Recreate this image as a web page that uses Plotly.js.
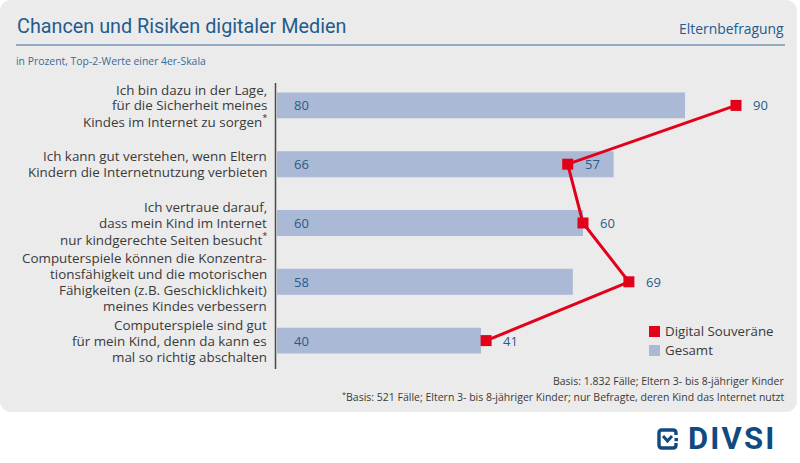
<!DOCTYPE html>
<html><head><meta charset="utf-8">
<script src="https://cdn.plot.ly/plotly-3.0.1.min.js"></script>
<style>
body{margin:0;background:#fff;font-family:"Open Sans",sans-serif;}
#panel{position:absolute;left:0;top:0;width:797px;height:412px;background:#ebebeb;border-radius:11px;}
#chart{position:absolute;left:0;top:0;width:800px;height:463px;}
#logo{position:absolute;left:657px;top:424px;height:30px;display:flex;align-items:center;}
#logo span{font-family:Roboto,sans-serif;font-weight:700;font-size:31px;color:#0f4a80;letter-spacing:2.2px;margin-left:8px;line-height:30px;}
</style></head>
<body>
<div id="panel"></div>
<div id="chart"></div>
<div id="logo"><svg width="23" height="22" viewBox="0 0 23 22"><path d="M19 7 V5 Q19 2 16 2 H5 Q2 2 2 5 V17 Q2 20 5 20 H16 Q19 20 19 17 V15" fill="none" stroke="#0f4a80" stroke-width="3.4"/><path d="M6 8 L10.5 13 L15 8" fill="none" stroke="#0f4a80" stroke-width="3"/><rect x="17.5" y="10" width="3.5" height="3.2" fill="#0f4a80"/></svg><span>DIVSI</span></div>
<script>
const categories = [
  "Ich bin dazu in der Lage,<br>für die Sicherheit meines<br>Kindes im Internet zu sorgen<sup>*</sup>",
  "Ich kann gut verstehen, wenn Eltern<br>Kindern die Internetnutzung verbieten",
  "Ich vertraue darauf,<br>dass mein Kind im Internet<br>nur kindgerechte Seiten besucht<sup>*</sup>",
  "Computerspiele können die Konzentra-<br>tionsfähigkeit und die motorischen<br>Fähigkeiten (z.B. Geschicklichkeit)<br>meines Kindes verbessern",
  "Computerspiele sind gut<br>für mein Kind, denn da kann es<br>mal so richtig abschalten"
];
const gesamt = [80, 66, 60, 58, 40];
const digitalSouveraene = [90, 57, 60, 69, 41];
const seriesNames = ["Digital Souveräne", "Gesamt"];
const titleText = "Chancen und Risiken digitaler Medien";
const subtitleText = "in Prozent, Top-2-Werte einer 4er-Skala";
const groupText = "Elternbefragung";
const footnote1 = "Basis: 1.832 Fälle; Eltern 3- bis 8-jähriger Kinder";
const footnote2 = "<sup>*</sup>Basis: 521 Fälle; Eltern 3- bis 8-jähriger Kinder; nur Befragte, deren Kind das Internet nutzt";

const W = 800, H = 463, L = 277, R = 13, T = 76, B = 93;
const pw = W - L - R, ph = H - T - B;
const px = x => (x - L) / pw;
const py = y => 1 - (y - T) / ph;

const F = "Open Sans";
const blue = "#2a5b8b", red = "#e2001a", barCol = "#aab9d5", txt = "#3a3a3a";
const lineGap = 15.9;

const traces = [
  {type:"bar", orientation:"h", x:gesamt, y:categories, width:0.44,
   marker:{color:barCol}, name:seriesNames[1], showlegend:false, hoverinfo:"skip"},
  {type:"scatter", mode:"lines+markers", x:digitalSouveraene, y:categories,
   line:{color:red, width:3}, marker:{symbol:"square", size:11, color:red},
   name:seriesNames[0], showlegend:false, hoverinfo:"skip"}
];

const ann = [];
// category labels, one text per line so that the line spacing matches
categories.forEach(c=>{
  const lines = c.split("<br>");
  lines.forEach((ln,k)=>ann.push({x:0, y:c, xref:"x", yref:"y", text:ln, xanchor:"right", yanchor:"middle",
    xshift:-10, yshift:((lines.length-1)/2 - k)*lineGap, showarrow:false, borderpad:0, borderwidth:0,
    font:{size:13.4, color:txt, family:F}}));
});
gesamt.forEach((v,i)=>ann.push({x:0, y:categories[i], xref:"x", yref:"y", text:String(v),
  xanchor:"left", xshift:15, showarrow:false, font:{size:13, color:blue, family:F}}));
digitalSouveraene.forEach((v,i)=>ann.push({x:v, y:categories[i], xref:"x", yref:"y", text:String(v),
  xanchor:"left", xshift:15, showarrow:false, font:{size:13, color:blue, family:F}}));
ann.push({x:px(15), y:py(27), xref:"paper", yref:"paper", text:titleText, xanchor:"left", yanchor:"middle",
  showarrow:false, font:{size:19.8, color:"#245b8e", family:"Roboto"}});
ann.push({x:px(786), y:py(28), xref:"paper", yref:"paper", text:groupText, xanchor:"right", yanchor:"middle",
  showarrow:false, font:{size:13.9, color:"#245b8e", family:F}});
ann.push({x:px(14), y:py(61), xref:"paper", yref:"paper", text:subtitleText, xanchor:"left", yanchor:"middle",
  showarrow:false, font:{size:10.4, color:"#3a6a98", family:F}});
ann.push({x:px(786), y:py(381), xref:"paper", yref:"paper", text:footnote1, xanchor:"right", yanchor:"middle",
  showarrow:false, font:{size:10.5, color:txt, family:F}});
ann.push({x:px(786), y:py(396), xref:"paper", yref:"paper", text:footnote2, xanchor:"right", yanchor:"middle",
  showarrow:false, font:{size:10.5, color:txt, family:F}});
ann.push({x:px(663), y:py(331), xref:"paper", yref:"paper", text:seriesNames[0], xanchor:"left", yanchor:"middle",
  showarrow:false, font:{size:13.3, color:txt, family:F}});
ann.push({x:px(663), y:py(350), xref:"paper", yref:"paper", text:seriesNames[1], xanchor:"left", yanchor:"middle",
  showarrow:false, font:{size:13.3, color:txt, family:F}});

const shapes = [
  {type:"line", xref:"paper", yref:"paper", x0:px(16), x1:px(785), y0:py(45), y1:py(45), line:{color:"#3d6c9a", width:1}},
  {type:"line", xref:"paper", yref:"paper", x0:px(275.5), x1:px(275.5), y0:py(83), y1:py(369), line:{color:"#4a4a4a", width:1.5}},
  {type:"rect", xref:"paper", yref:"paper", x0:px(649), x1:px(660), y0:py(326), y1:py(337), fillcolor:red, line:{width:0}},
  {type:"rect", xref:"paper", yref:"paper", x0:px(649), x1:px(660), y0:py(345), y1:py(356), fillcolor:barCol, line:{width:0}}
];

const layout = {
  width:W, height:H, margin:{l:L, r:R, t:T, b:B},
  paper_bgcolor:"rgba(0,0,0,0)", plot_bgcolor:"rgba(0,0,0,0)",
  font:{family:F, color:txt},
  xaxis:{range:[0,100], showgrid:false, zeroline:false, showticklabels:false, showline:false, fixedrange:true},
  yaxis:{type:"category", autorange:"reversed", showgrid:false, zeroline:false, showline:false,
    ticks:"", showticklabels:false, fixedrange:true},
  showlegend:false, annotations:ann, shapes:shapes
};
Plotly.newPlot("chart", traces, layout, {displayModeBar:false, staticPlot:true});
</script>
</body></html>
